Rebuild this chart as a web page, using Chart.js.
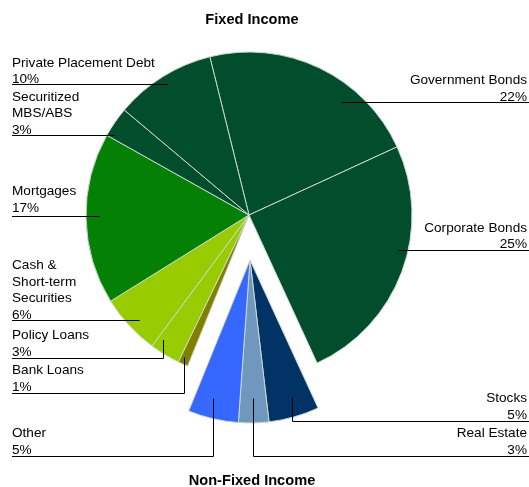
<!DOCTYPE html>
<html>
<head>
<meta charset="utf-8">
<script src="https://cdn.jsdelivr.net/npm/chart.js@4/dist/chart.umd.min.js"></script>
<style>
  html, body { margin: 0; padding: 0; background: #ffffff; }
  #c { display: block; }
</style>
</head>
<body>
<canvas id="c" width="529" height="487"></canvas>
<script>
// ---------------- data ----------------
const categories = [
  'Government Bonds', 'Corporate Bonds', 'Stocks', 'Real Estate', 'Other',
  'Bank Loans', 'Policy Loans', ['Cash &', 'Short-term', 'Securities'],
  'Mortgages', ['Securitized', 'MBS/ABS'], 'Private Placement Debt'
];
const shares = [22, 25, 5, 3, 5, 1, 3, 6, 17, 3, 10];
const groupTitles = ['Fixed Income', 'Non-Fixed Income'];
const nonFixedItems = ['Stocks', 'Real Estate', 'Other'];

// ---------------- styles / layout ----------------
const sliceColors = [
  '#024d2c', '#024d2c', '#023366', '#7098be', '#3668ff',
  '#808000', '#99cc00', '#99cc00', '#048004', '#024d2c', '#024d2c'
];
const EXPLODE = { dx: 1, dy: 45 };
const FONT = '13.6px "Liberation Sans", Arial, sans-serif';
const BOLD = 'bold 14.6px "Liberation Sans", Arial, sans-serif';
const LH = 16.4;
const LEFT_TEXT = 12, RIGHT_TEXT = 527, LEFT_LINE = 12, RIGHT_LINE = 529;
// per-slice label placement (same order as categories)
const labelLayout = [
  { side: 'right', mode: 'h', base: 100.5, lineY: 102, rf: 0.90 },
  { side: 'right', mode: 'h', base: 248,   lineY: 250, rf: 0.94 },
  { side: 'right', mode: 'v', base: 418.5, lineY: 421, rf: 0.88, af: 0.43 },
  { side: 'right', mode: 'v', base: 453.5, lineY: 456, rf: 0.85, af: 0.5 },
  { side: 'left',  mode: 'v', base: 453.5, lineY: 456, rf: 0.88, af: 0.6 },
  { side: 'left',  mode: 'v', base: 390.5, lineY: 393, rf: 0.96, af: 0.64 },
  { side: 'left',  mode: 'v', base: 355.5, lineY: 358, rf: 0.93, af: 0.81 },
  { side: 'left',  mode: 'h', base: 318.5, lineY: 320, rf: 0.93 },
  { side: 'left',  mode: 'h', base: 211.5, lineY: 216, rf: 0.915 },
  { side: 'left',  mode: 'h', base: 133.5, lineY: 135, rf: 0.96 },
  { side: 'left',  mode: 'h', base: 83,    lineY: 84,  rf: 0.945 }
];

const explodePlugin = {
  id: 'explodeGroup',
  afterDatasetsUpdate(chart) {
    const meta = chart.getDatasetMeta(0);
    meta.data.forEach((arc, i) => {
      if (nonFixedItems.includes(categories[i])) {
        arc.x += EXPLODE.dx;
        arc.y += EXPLODE.dy;
      }
    });
  }
};

const labelPlugin = {
  id: 'leaderLabels',
  afterDraw(chart) {
    const ctx = chart.ctx;
    const meta = chart.getDatasetMeta(0);
    ctx.save();
    ctx.font = FONT;
    ctx.fillStyle = '#000';
    ctx.strokeStyle = '#000';
    ctx.lineWidth = 1;
    ctx.textBaseline = 'alphabetic';
    meta.data.forEach((arc, i) => {
      const L = labelLayout[i];
      const R = arc.outerRadius;
      let ax, ay;
      if (L.mode === 'h') {
        const dy = L.lineY - arc.y;
        const r = L.rf * R;
        const dx = Math.sqrt(Math.max(r * r - dy * dy, 0));
        ax = L.side === 'left' ? arc.x - dx : arc.x + dx;
        ay = L.lineY;
      } else {
        const ang = arc.startAngle + (arc.endAngle - arc.startAngle) * L.af;
        ax = Math.round(arc.x + Math.cos(ang) * L.rf * R) + 0.5;
        ay = arc.y + Math.sin(ang) * L.rf * R;
      }
      const ly = Math.round(L.lineY) + 0.5;
      const edge = L.side === 'left' ? LEFT_LINE : RIGHT_LINE;
      ctx.beginPath();
      ctx.moveTo(edge, ly);
      ctx.lineTo(ax, ly);
      if (L.mode === 'v') ctx.lineTo(ax, ay);
      ctx.stroke();

      const lines = [].concat(categories[i], [shares[i] + '%']);
      ctx.textAlign = L.side === 'left' ? 'left' : 'right';
      const tx = L.side === 'left' ? LEFT_TEXT : RIGHT_TEXT;
      lines.forEach((t, k) => {
        ctx.fillText(t, tx, L.base - (lines.length - 1 - k) * LH);
      });
    });
    ctx.font = BOLD;
    ctx.textAlign = 'center';
    ctx.fillText(groupTitles[0], 252, 24);
    ctx.fillText(groupTitles[1], 252, 485);
    ctx.restore();
  }
};

new Chart(document.getElementById('c'), {
  type: 'pie',
  data: {
    labels: categories,
    datasets: [{
      data: shares,
      backgroundColor: sliceColors,
      borderColor: '#c9d8cc',
      borderWidth: 1
    }]
  },
  options: {
    responsive: false,
    animation: false,
    events: [],
    rotation: -13.9,
    radius: 163,
    layout: { padding: { left: 0, right: 31, top: 0, bottom: 57 } },
    plugins: {
      legend: { display: false },
      tooltip: { enabled: false },
      title: { display: false }
    }
  },
  plugins: [explodePlugin, labelPlugin]
});
</script>
</body>
</html>
